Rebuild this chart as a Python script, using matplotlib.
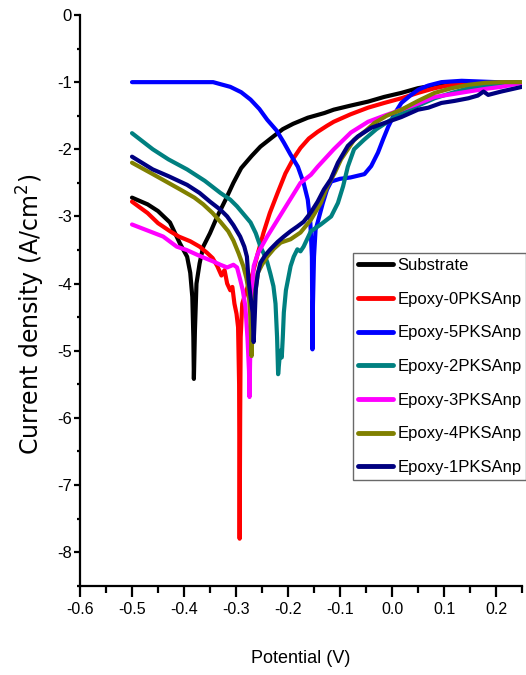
import matplotlib
matplotlib.use("Agg")
import matplotlib.pyplot as plt
from matplotlib.ticker import MultipleLocator, FormatStrFormatter

FONT = 'Liberation Sans'

# ---------------- data (potential V, log current density) ----------------
labels = ["Substrate", "Epoxy-0PKSAnp", "Epoxy-5PKSAnp", "Epoxy-2PKSAnp",
          "Epoxy-3PKSAnp", "Epoxy-4PKSAnp", "Epoxy-1PKSAnp"]
colors = ["#000000", "#FF0000", "#0000FF", "#008080", "#FF00FF", "#808000", "#000080"]

sub_x = [-0.5, -0.47, -0.45, -0.427, -0.408, -0.394, -0.388, -0.384, -0.382, -0.381, -0.379,
         -0.376, -0.37, -0.363, -0.35, -0.336, -0.32, -0.305, -0.29, -0.27, -0.253, -0.23,
         -0.21, -0.19, -0.162, -0.13, -0.112, -0.08, -0.046, -0.015, 0.018, 0.05, 0.08,
         0.11, 0.14, 0.18, 0.25]
sub_y = [-2.72, -2.82, -2.92, -3.09, -3.4, -3.6, -3.84, -4.2, -4.8, -5.42, -4.7,
         -4.0, -3.7, -3.45, -3.25, -3.0, -2.75, -2.5, -2.28, -2.1, -1.96, -1.82,
         -1.7, -1.62, -1.53, -1.46, -1.41, -1.35, -1.29, -1.22, -1.16, -1.09, -1.05,
         -1.02, -1.0, -1.0, -1.0]

e0_x = [-0.5, -0.47, -0.45, -0.427, -0.41, -0.388, -0.37, -0.356, -0.345, -0.336, -0.328,
        -0.322, -0.317, -0.311, -0.307, -0.303, -0.299, -0.296, -0.294, -0.293, -0.292,
        -0.291, -0.288, -0.28, -0.268, -0.258, -0.247, -0.235, -0.22, -0.205, -0.189,
        -0.176, -0.16, -0.143, -0.125, -0.112, -0.08, -0.046, -0.015, 0.018, 0.05, 0.082,
        0.115, 0.15, 0.2, 0.25]
e0_y = [-2.78, -2.95, -3.1, -3.22, -3.3, -3.37, -3.45, -3.54, -3.62, -3.74, -3.88,
        -3.8, -4.0, -4.1, -4.05, -4.3, -4.45, -4.65, -5.5, -7.8, -6.0,
        -4.8, -4.3, -4.1, -3.85, -3.55, -3.24, -2.95, -2.65, -2.36, -2.13,
        -1.98, -1.84, -1.74, -1.65, -1.59, -1.48, -1.38, -1.31, -1.24, -1.16, -1.09,
        -1.04, -1.01, -1.0, -1.0]

e5_x = [-0.5, -0.4, -0.344, -0.33, -0.311, -0.29, -0.272, -0.255, -0.24, -0.222, -0.208,
        -0.195, -0.181, -0.17, -0.162, -0.157, -0.154, -0.153, -0.152, -0.15, -0.147,
        -0.143, -0.133, -0.125, -0.117, -0.1, -0.08, -0.053, -0.04, -0.027, -0.017,
        -0.007, 0.005, 0.018, 0.035, 0.051, 0.07, 0.095, 0.134, 0.2, 0.25]
e5_y = [-1.0, -1.0, -1.0, -1.03, -1.07, -1.15, -1.26, -1.4, -1.56, -1.72, -1.9,
        -2.08, -2.26, -2.5, -2.75, -3.1, -3.6, -4.98, -4.3, -3.6, -3.2,
        -3.09, -2.8, -2.6, -2.48, -2.44, -2.42, -2.37, -2.25, -2.05, -1.85,
        -1.66, -1.47, -1.31, -1.2, -1.11, -1.05, -1.0, -0.98, -1.0, -1.0]

e2_x = [-0.5, -0.46, -0.43, -0.394, -0.36, -0.33, -0.311, -0.298, -0.285, -0.272, -0.262,
        -0.253, -0.245, -0.24, -0.234, -0.228, -0.224, -0.221, -0.219, -0.215, -0.212,
        -0.21, -0.208, -0.204, -0.2, -0.195, -0.189, -0.182, -0.176, -0.17, -0.156,
        -0.137, -0.117, -0.104, -0.094, -0.085, -0.073, -0.054, -0.03, 0.0, 0.018, 0.05,
        0.082, 0.115, 0.147, 0.18, 0.21, 0.25]
e2_y = [-1.76, -2.0, -2.15, -2.3, -2.47, -2.65, -2.75, -2.85, -2.97, -3.09, -3.25,
        -3.45, -3.58, -3.68, -3.85, -4.04, -4.3, -4.8, -5.35, -5.0, -5.1,
        -4.8, -4.43, -4.1, -3.94, -3.74, -3.6, -3.49, -3.52, -3.45, -3.22,
        -3.12, -3.0, -2.8, -2.55, -2.26, -2.0, -1.86, -1.7, -1.55, -1.46, -1.35,
        -1.24, -1.16, -1.09, -1.05, -1.02, -1.0]

e3_x = [-0.5, -0.46, -0.44, -0.414, -0.395, -0.375, -0.36, -0.344, -0.33, -0.317, -0.305,
        -0.298, -0.292, -0.287, -0.282, -0.278, -0.275, -0.274, -0.273, -0.271, -0.268,
        -0.266, -0.258, -0.24, -0.22, -0.2, -0.176, -0.156, -0.143, -0.112, -0.079,
        -0.046, -0.015, 0.018, 0.05, 0.082, 0.115, 0.147, 0.18, 0.21, 0.25]
e3_y = [-3.12, -3.24, -3.3, -3.45, -3.5, -3.57, -3.62, -3.67, -3.72, -3.76, -3.72,
        -3.76, -3.94, -4.1, -4.34, -4.8, -5.3, -5.69, -5.2, -4.5, -4.0,
        -3.74, -3.55, -3.3, -3.05, -2.8, -2.5, -2.38, -2.26, -2.0, -1.75,
        -1.59, -1.5, -1.41, -1.32, -1.22, -1.18, -1.14, -1.1, -1.07, -1.01]

e4_x = [-0.5, -0.46, -0.43, -0.407, -0.38, -0.363, -0.345, -0.33, -0.315, -0.305, -0.295,
        -0.286, -0.28, -0.276, -0.273, -0.271, -0.27, -0.268, -0.264, -0.258, -0.25,
        -0.24, -0.227, -0.214, -0.195, -0.176, -0.156, -0.137, -0.124, -0.11, -0.098,
        -0.085, -0.073, -0.05, -0.034, -0.01, 0.018, 0.05, 0.082, 0.115, 0.147, 0.18,
        0.21, 0.25]
e4_y = [-2.2, -2.37, -2.5, -2.6, -2.72, -2.82, -2.95, -3.08, -3.22, -3.36, -3.55,
        -3.74, -3.92, -4.1, -4.4, -4.8, -5.08, -4.6, -4.2, -3.84, -3.72,
        -3.6, -3.48, -3.39, -3.34, -3.24, -3.05, -2.8, -2.55, -2.35, -2.15,
        -2.0, -1.86, -1.72, -1.61, -1.5, -1.41, -1.28, -1.16, -1.09, -1.04, -1.01,
        -1.0, -1.0]

e1_x = [-0.5, -0.46, -0.43, -0.394, -0.37, -0.35, -0.33, -0.317, -0.305, -0.292, -0.284,
        -0.279, -0.276, -0.272, -0.268, -0.266, -0.264, -0.262, -0.258, -0.253, -0.244,
        -0.234, -0.22, -0.208, -0.195, -0.182, -0.17, -0.156, -0.143, -0.131, -0.118,
        -0.104, -0.085, -0.066, -0.04, -0.015, 0.018, 0.05, 0.07, 0.095, 0.12, 0.147,
        0.165, 0.176, 0.185, 0.21, 0.25]
e1_y = [-2.11, -2.3, -2.4, -2.53, -2.65, -2.78, -2.9, -3.0, -3.13, -3.3, -3.45,
        -3.6, -3.94, -4.2, -4.43, -4.87, -4.5, -4.09, -3.85, -3.69, -3.58,
        -3.49, -3.38, -3.3, -3.22, -3.15, -3.08, -2.94, -2.78, -2.6, -2.45,
        -2.2, -1.95, -1.81, -1.68, -1.61, -1.52, -1.41, -1.38, -1.31, -1.28, -1.24,
        -1.2, -1.14, -1.19, -1.14, -1.07]

xs = [sub_x, e0_x, e5_x, e2_x, e3_x, e4_x, e1_x]
ys = [sub_y, e0_y, e5_y, e2_y, e3_y, e4_y, e1_y]

# ---------------- figure ----------------
fig = plt.figure(figsize=(5.26, 6.75), dpi=100)
ax = fig.add_axes([80 / 526, 1 - 585.7 / 675, 442 / 526, (585.7 - 15) / 675])

for x, y, c, lab in zip(xs, ys, colors, labels):
    ax.plot(x, y, color=c, lw=3.0, label=lab, solid_joinstyle='round', solid_capstyle='round')

ax.set_xlim(-0.6, 0.25)
ax.set_ylim(-8.5, 0)
ax.spines['top'].set_visible(False)
ax.spines['right'].set_visible(False)
for s in ('left', 'bottom'):
    ax.spines[s].set_linewidth(1.6)

ax.xaxis.set_major_locator(MultipleLocator(0.1))
ax.xaxis.set_minor_locator(MultipleLocator(0.05))
ax.yaxis.set_major_locator(MultipleLocator(1))
ax.yaxis.set_minor_locator(MultipleLocator(0.5))
ax.xaxis.set_major_formatter(FormatStrFormatter('%.1f'))
ax.yaxis.set_major_formatter(FormatStrFormatter('%d'))

ax.tick_params(axis='x', which='major', length=8, width=1.6, direction='out', labelsize=11.5, pad=3.5)
ax.tick_params(axis='x', which='minor', length=5, width=1.6, direction='out')
ax.tick_params(axis='y', which='major', length=4.5, width=1.6, direction='out', labelsize=12, pad=1.5)
ax.tick_params(axis='y', which='minor', length=2.5, width=1.6, direction='out')
for t in ax.get_xticklabels() + ax.get_yticklabels():
    t.set_fontfamily(FONT)

ax.set_xlabel("Potential (V)", fontsize=13, family=FONT, labelpad=24)
ax.set_ylabel("Current density (A/cm$^2$)", fontsize=17, family='DejaVu Sans', labelpad=7)
ax.yaxis.label.set_y(0.476)

leg = ax.legend(loc='upper left', bbox_to_anchor=(353 / 526, 1 - 253 / 675),
                bbox_transform=fig.transFigure, borderaxespad=0,
                prop={'family': FONT, 'size': 12},
                frameon=True, fancybox=False, edgecolor='#444444',
                handlelength=2.1, handletextpad=0.25, borderpad=0.3, labelspacing=1.12)
leg.get_frame().set_linewidth(1.0)
for h in leg.get_lines():
    h.set_linewidth(3.5)

fig.savefig("out.png", dpi=100)
